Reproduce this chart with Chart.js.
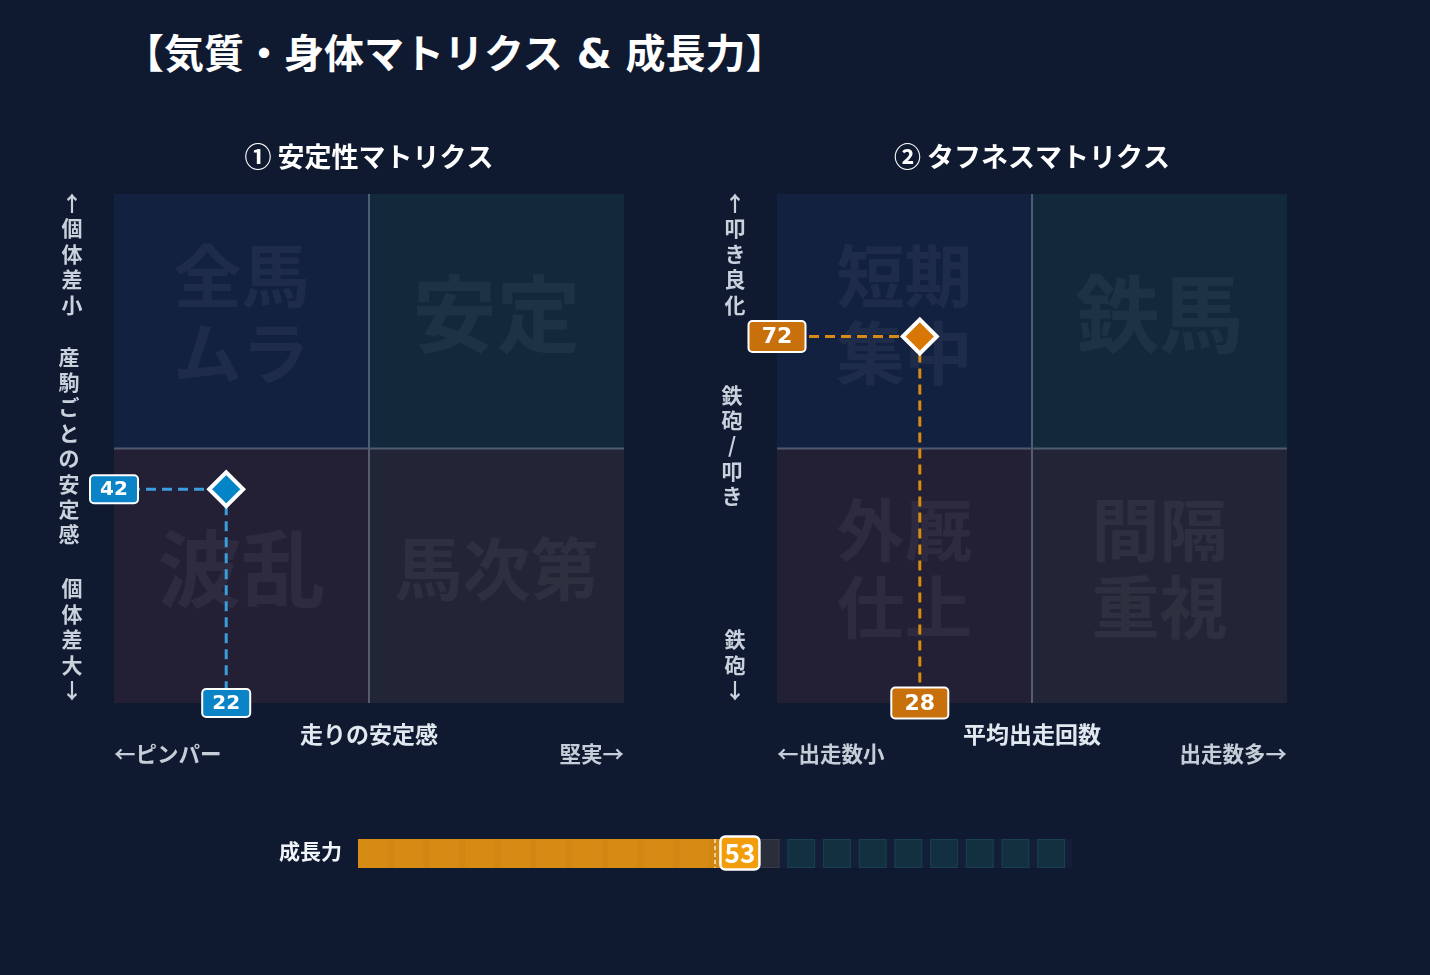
<!DOCTYPE html>
<html>
<head>
<meta charset="utf-8">
<script src="https://cdn.jsdelivr.net/npm/chart.js@4.4.0/dist/chart.umd.min.js"></script>
<style>
  body { margin: 0; background: #0f1a30; width: 1430px; height: 975px; overflow: hidden; position: relative;
         font-family: "DejaVu Sans", "Noto Sans CJK JP", sans-serif; }
  #title { position: absolute; left: 124px; top: 29px; height: 50px; line-height: 50px; font-size: 40px;
           font-weight: bold; color: #ffffff; white-space: nowrap; }
  .box { position: absolute; }
</style>
</head>
<body>
<div id="title">【気質・身体マトリクス &amp; 成長力】</div>
<div class="box" style="left:40px;top:120px;width:620px;height:680px"><canvas id="stabilityChart"></canvas></div>
<div class="box" style="left:700px;top:120px;width:620px;height:680px"><canvas id="toughnessChart"></canvas></div>
<div class="box" style="left:260px;top:820px;width:840px;height:70px"><canvas id="growthChart"></canvas></div>

<script>
// data
const stabilityX = [22];
const stabilityY = [42];
const toughnessX = [28];
const toughnessY = [72];
const growthLabels = ['成長力'];
const growthValues = [53];

// quadrant words: top-left, top-right, bottom-left, bottom-right
const stabilityQuadrants = ['全馬\nムラ', '安定', '波乱', '馬次第'];
const toughnessQuadrants = ['短期\n集中', '鉄馬', '外厩\n仕上', '間隔\n重視'];
const stabilityAxisY = ['↑個体差小', '産駒ごとの安定感', '個体差大↓'];
const stabilityAxisX = ['←ピンパー', '走りの安定感', '堅実→'];
const toughnessAxisY = ['↑叩き良化', '鉄砲/叩き', '鉄砲↓'];
const toughnessAxisX = ['←出走数小', '平均出走回数', '出走数多→'];

const FONT = '"DejaVu Sans", "Noto Sans CJK JP", sans-serif';
const CJK = '"Noto Sans CJK JP", sans-serif';

function drawVertical(ctx, str, x, yStart, step) {
    [...str].forEach(function (c, i) { ctx.fillText(c, x, yStart + i * step); });
}

function valueBox(ctx, text, cx, cy, w, h, fill, fontSize) {
    ctx.save();
    ctx.beginPath();
    ctx.roundRect(cx - w / 2, cy - h / 2, w, h, 4);
    ctx.fillStyle = fill;
    ctx.fill();
    ctx.lineWidth = 2;
    ctx.strokeStyle = '#ffffff';
    ctx.stroke();
    ctx.fillStyle = '#ffffff';
    ctx.font = 'bold ' + fontSize + 'px ' + FONT;
    ctx.textAlign = 'center';
    ctx.textBaseline = 'middle';
    ctx.fillText(text, cx, cy + 1);
    ctx.restore();
}

function matrixPlugin(opt) {
    return {
        id: 'matrix',
        beforeDatasetsDraw(chart) {
            const ctx = chart.ctx, a = chart.chartArea;
            const mx = chart.scales.x.getPixelForValue(50);
            const my = chart.scales.y.getPixelForValue(50);
            const quads = [
                [a.left, a.top, mx, my, '#132140'],
                [mx, a.top, a.right, my, '#12283b'],
                [a.left, my, mx, a.bottom, '#231f35'],
                [mx, my, a.right, a.bottom, '#222535']
            ];
            ctx.save();
            quads.forEach(function (q, i) {
                ctx.fillStyle = q[4];
                ctx.fillRect(q[0], q[1], q[2] - q[0], q[3] - q[1]);
                const lines = opt.quadrants[i].split('\n');
                const size = (lines.length === 1 && lines[0].length === 2) ? 84 : 68;
                const lh = size * 1.13;
                const cx = (q[0] + q[2]) / 2, cy = (q[1] + q[3]) / 2 - 7;
                ctx.font = 'bold ' + size + 'px ' + CJK;
                ctx.fillStyle = 'rgba(255,255,255,0.05)';
                ctx.textAlign = 'center';
                ctx.textBaseline = 'middle';
                lines.forEach(function (l, j) {
                    ctx.fillText(l, cx, cy + (j - (lines.length - 1) / 2) * lh);
                });
            });
            // mid lines
            ctx.strokeStyle = 'rgba(148,163,184,0.45)';
            ctx.lineWidth = 2;
            ctx.beginPath();
            ctx.moveTo(mx, a.top); ctx.lineTo(mx, a.bottom);
            ctx.moveTo(a.left, my); ctx.lineTo(a.right, my);
            ctx.stroke();
            // guide lines from the point
            const p = chart.getDatasetMeta(0).data[0];
            ctx.strokeStyle = opt.lineColor;
            ctx.lineWidth = 3;
            ctx.setLineDash([10, 6]);
            ctx.beginPath();
            ctx.moveTo(a.left, p.y); ctx.lineTo(p.x, p.y);
            ctx.moveTo(p.x, p.y); ctx.lineTo(p.x, a.bottom);
            ctx.stroke();
            ctx.restore();
        },
        afterDatasetsDraw(chart) {
            const ctx = chart.ctx, a = chart.chartArea;
            const p = chart.getDatasetMeta(0).data[0];
            const d = chart.data.datasets[0].data[0];
            valueBox(ctx, String(d.y), a.left, p.y, opt.boxW, opt.boxH, opt.boxColor, opt.boxFont);
            valueBox(ctx, String(d.x), p.x, a.bottom, opt.boxW, opt.boxH, opt.boxColor, opt.boxFont);
        },
        afterDraw(chart) {
            const ctx = chart.ctx, a = chart.chartArea;
            const cx = (a.left + a.right) / 2;
            ctx.save();
            ctx.textAlign = 'center';
            ctx.textBaseline = 'middle';
            // subtitle
            ctx.fillStyle = '#ffffff';
            ctx.font = 'bold 27px ' + CJK;
            ctx.fillText(opt.title, cx, a.top - 37);
            // y axis words
            const step = 25.4;
            ctx.font = 'bold 21px ' + CJK;
            ctx.fillStyle = '#c9d1dc';
            const top = opt.axisY[0], mid = opt.axisY[1], bot = opt.axisY[2];
            drawVertical(ctx, top, a.left - 42, a.top + 9, step);
            drawVertical(ctx, mid, a.left - 45, (a.top + a.bottom) / 2 - 3 - ([...mid].length - 1) * step / 2, step);
            drawVertical(ctx, bot, a.left - 42, a.bottom - 13 - ([...bot].length - 1) * step, step);
            // x axis words
            ctx.font = 'bold 23px ' + CJK;
            ctx.fillStyle = '#e2e8f0';
            ctx.fillText(opt.axisX[1], cx, a.bottom + 31);
            ctx.font = 'bold 21.5px ' + CJK;
            ctx.fillStyle = '#c5cdd8';
            ctx.textAlign = 'left';
            ctx.fillText(opt.axisX[0], a.left, a.bottom + 51);
            ctx.textAlign = 'right';
            ctx.fillText(opt.axisX[2], a.right, a.bottom + 51);
            ctx.restore();
        }
    };
}

function matrixChart(id, xs, ys, pointColor, padding, opt) {
    const ctx = document.getElementById(id).getContext('2d');
    return new Chart(ctx, {
        type: 'scatter',
        data: {
            datasets: [{
                data: xs.map(function (v, i) { return {x: v, y: ys[i]}; }),
                pointStyle: 'rectRot',
                pointRadius: 17,
                pointHoverRadius: 17,
                pointBorderWidth: 4,
                pointBorderColor: '#ffffff',
                pointBackgroundColor: pointColor
            }]
        },
        options: {
            responsive: true,
            maintainAspectRatio: false,
            animation: false,
            events: [],
            layout: {padding: padding},
            scales: {
                x: {min: 0, max: 100, display: false},
                y: {min: 0, max: 100, display: false}
            },
            plugins: {legend: {display: false}, tooltip: {enabled: false}}
        },
        plugins: [matrixPlugin(opt)]
    });
}

matrixChart('stabilityChart', stabilityX, stabilityY, '#0284c7',
    {left: 74, top: 74, right: 36, bottom: 97},
    {title: '① 安定性マトリクス', quadrants: stabilityQuadrants, axisY: stabilityAxisY, axisX: stabilityAxisX,
     lineColor: '#3b9ddb', boxColor: '#0a84c6', boxW: 48, boxH: 28, boxFont: 20});

matrixChart('toughnessChart', toughnessX, toughnessY, '#d97706',
    {left: 77, top: 74, right: 33, bottom: 97},
    {title: '② タフネスマトリクス', quadrants: toughnessQuadrants, axisY: toughnessAxisY, axisX: toughnessAxisX,
     lineColor: '#d88a14', boxColor: '#c8700b', boxW: 57, boxH: 31, boxFont: 22});

// growth bar
const growthPlugin = {
    id: 'growth',
    beforeDatasetsDraw(chart) {
        const ctx = chart.ctx, a = chart.chartArea, x = chart.scales.x;
        ctx.save();
        ctx.fillStyle = '#131f38';
        ctx.fillRect(a.left, a.top, a.right - a.left, a.bottom - a.top);
        for (let v = 0; v < 100; v += 5) {
            const x0 = x.getPixelForValue(v) + 1, x1 = x.getPixelForValue(v + 5) - 7;
            const teal = v >= 60;
            ctx.fillStyle = teal ? '#12303f' : '#2a2d3a';
            ctx.strokeStyle = teal ? '#18404f' : '#3a3c47';
            ctx.lineWidth = 1;
            ctx.fillRect(x0, a.top, x1 - x0, a.bottom - a.top);
            ctx.strokeRect(x0 + 0.5, a.top + 0.5, x1 - x0 - 1, a.bottom - a.top - 1);
        }
        ctx.restore();
    },
    afterDatasetsDraw(chart) {
        const ctx = chart.ctx, a = chart.chartArea, x = chart.scales.x;
        const val = chart.data.datasets[0].data[0];
        const end = x.getPixelForValue(val);
        ctx.save();
        // faint cell seams inside the fill
        ctx.fillStyle = 'rgba(120,60,0,0.04)';
        for (let v = 5; v < val; v += 5) {
            const px = x.getPixelForValue(v);
            if (px < end) ctx.fillRect(px - 6, a.top, 6, a.bottom - a.top);
        }
        // half way marker
        const half = x.getPixelForValue(50);
        ctx.strokeStyle = 'rgba(255,255,255,0.6)';
        ctx.lineWidth = 2;
        ctx.setLineDash([4, 3]);
        ctx.beginPath();
        ctx.moveTo(half, a.top); ctx.lineTo(half, a.bottom);
        ctx.stroke();
        ctx.setLineDash([]);
        // value tag
        const cy = (a.top + a.bottom) / 2;
        ctx.beginPath();
        ctx.roundRect(end - 16, cy - 17, 39, 33, 5);
        ctx.fillStyle = '#f29e0c';
        ctx.fill();
        ctx.lineWidth = 2.5;
        ctx.strokeStyle = '#ffffff';
        ctx.stroke();
        ctx.fillStyle = '#ffffff';
        ctx.font = 'bold 26px ' + CJK;
        ctx.textAlign = 'center';
        ctx.textBaseline = 'middle';
        ctx.fillText(String(val), end + 3.5, cy);
        // row label
        ctx.font = 'bold 21px ' + CJK;
        ctx.fillStyle = '#f1f5f9';
        ctx.textAlign = 'right';
        ctx.fillText(chart.data.labels[0], a.left - 16, cy - 2);
        ctx.restore();
    }
};

new Chart(document.getElementById('growthChart').getContext('2d'), {
    type: 'bar',
    data: {
        labels: growthLabels,
        datasets: [{
            data: growthValues,
            backgroundColor: '#d68b14',
            borderWidth: 0,
            barPercentage: 1,
            categoryPercentage: 1
        }]
    },
    options: {
        indexAxis: 'y',
        responsive: true,
        maintainAspectRatio: false,
        animation: false,
        events: [],
        layout: {padding: {left: 98, top: 19, right: 28, bottom: 22}},
        scales: {
            x: {min: 0, max: 100, display: false},
            y: {display: false}
        },
        plugins: {legend: {display: false}, tooltip: {enabled: false}}
    },
    plugins: [growthPlugin]
});
</script>
</body>
</html>
